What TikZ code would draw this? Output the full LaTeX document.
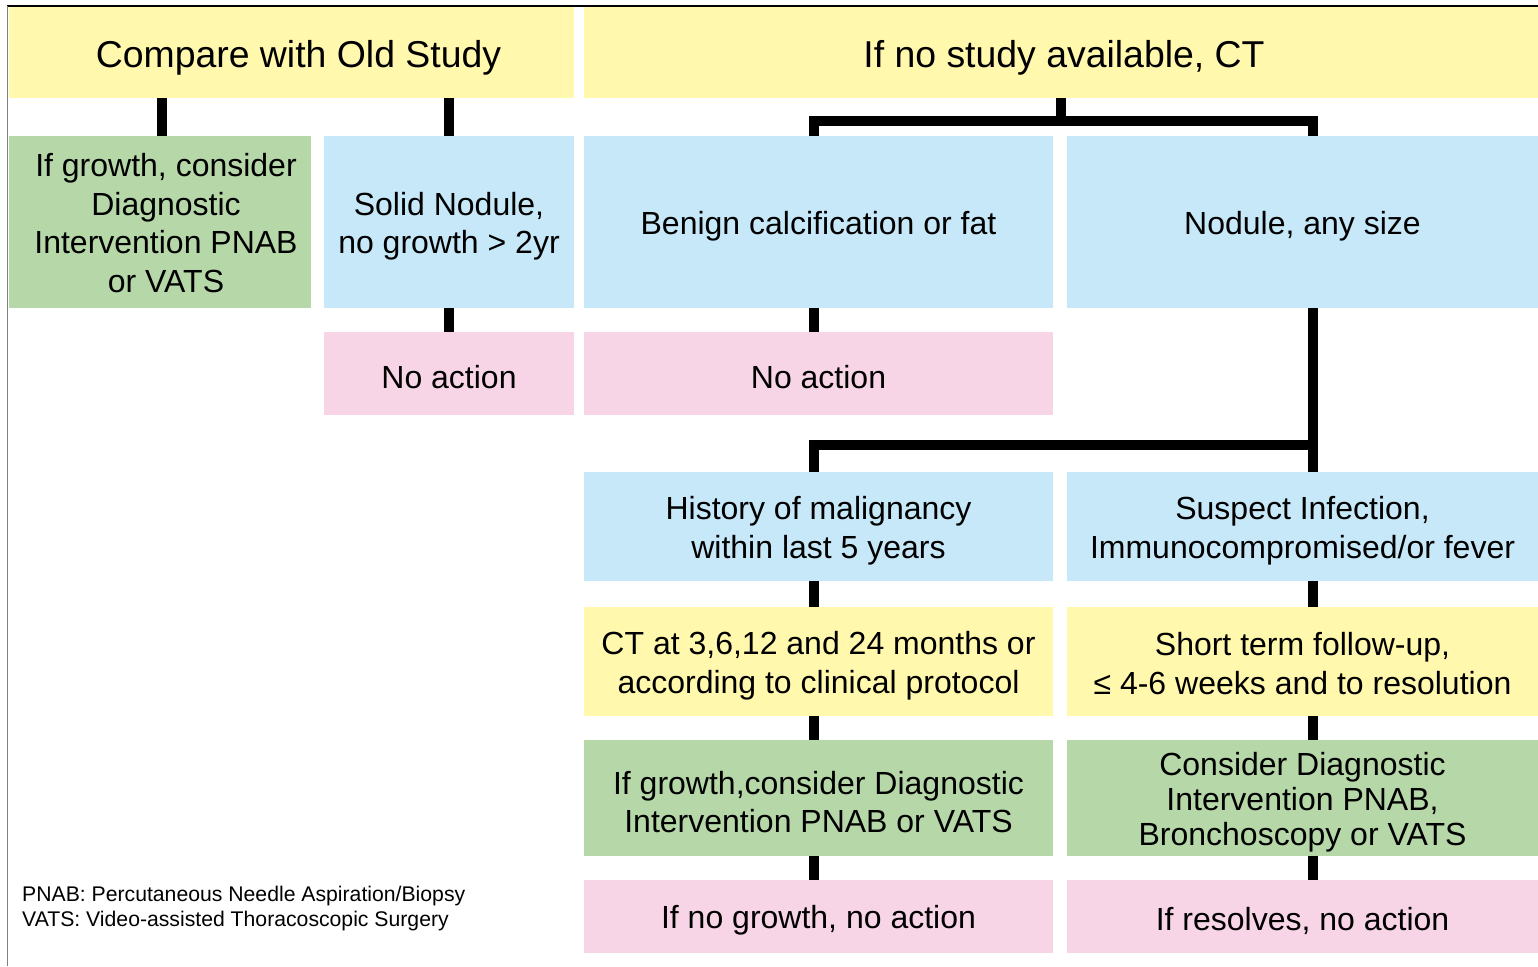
\documentclass[tikz,border=0pt]{standalone}
\usepackage{fontspec}
\setmainfont{Liberation Sans}
\definecolor{cyellow}{HTML}{FFF8AD}
\definecolor{cblue}{HTML}{C6E8F8}
\definecolor{cgreen}{HTML}{B6D7A8}
\definecolor{cpink}{HTML}{F8D5E6}
\definecolor{cframe}{HTML}{808080}
\begin{document}
\begin{tikzpicture}[x=1pt,y=1pt,
  box/.style={rectangle, draw=none, inner sep=0pt},
  txt/.style={inner sep=0pt, align=center, text=black, yshift=-4pt,
    font=\fontsize{32}{38.5}\selectfont},
  ttxt/.style={txt, yshift=-1pt, font=\fontsize{37.4}{44}\selectfont},
  conn/.style={draw=black, line width=10pt, line cap=butt, line join=miter}]
\useasboundingbox (0,0) rectangle (1538,-966);
\fill[white] (0,0) rectangle (1538,-966);
% frame
\draw[black, line width=1.4pt] (7,-6) -- (1538,-6);
\draw[cframe, line width=1.6pt] (7.5,-6) -- (7.5,-966);
% top row
\node[box, fill=cyellow, minimum width=565, minimum height=91, label={[ttxt, xshift=7pt]center:Compare with Old Study}] (t1) at (291.5,-52.5) {};
\node[box, fill=cyellow, minimum width=954, minimum height=91, label={[ttxt, xshift=3pt]center:{If no study available, CT}}] (t2) at (1061,-52.5) {};
% second row
\node[box, fill=cgreen, minimum width=302, minimum height=172, label={[txt, xshift=6pt, yshift=3pt]center:{If growth, consider\\Diagnostic\\Intervention PNAB\\or VATS}}] (g1) at (160,-222) {};
\node[box, fill=cblue, minimum width=250, minimum height=172, label={[txt]center:{Solid Nodule,\\no growth {>} 2yr}}] (b1) at (449,-222) {};
\node[box, fill=cblue, minimum width=469, minimum height=172, label={[txt]center:Benign calcification or fat}] (b2) at (818.5,-222) {};
\node[box, fill=cblue, minimum width=471, minimum height=172, label={[txt]center:{Nodule, any size}}] (b3) at (1302.5,-222) {};
% no action row
\node[box, fill=cpink, minimum width=250, minimum height=83, label={[txt]center:No action}] (p1) at (449,-373.5) {};
\node[box, fill=cpink, minimum width=469, minimum height=83, label={[txt]center:No action}] (p2) at (818.5,-373.5) {};
% lower rows
\node[box, fill=cblue, minimum width=469, minimum height=109, label={[txt]center:{History of malignancy\\within last 5 years}}] (b4) at (818.5,-526.5) {};
\node[box, fill=cblue, minimum width=471, minimum height=109, label={[txt]center:{Suspect Infection,\\Immunocompromised/or fever}}] (b5) at (1302.5,-526.5) {};
\node[box, fill=cyellow, minimum width=469, minimum height=109, label={[txt]center:{CT at 3,6,12 and 24 months or\\according to clinical protocol}}] (y3) at (818.5,-661.5) {};
\node[box, fill=cyellow, minimum width=471, minimum height=109, label={[txt, yshift=2pt]center:{Short term follow-up,\\≤ 4-6 weeks and to resolution}}] (y4) at (1302.5,-661.5) {};
\node[box, fill=cgreen, minimum width=469, minimum height=116, label={[txt]center:{If growth,consider Diagnostic\\Intervention PNAB or VATS}}] (g2) at (818.5,-798) {};
\node[box, fill=cgreen, minimum width=471, minimum height=116, label={[txt, font=\fontsize{32}{35}\selectfont]center:{Consider Diagnostic\\Intervention PNAB,\\Bronchoscopy or VATS}}] (g3) at (1302.5,-798) {};
\node[box, fill=cpink, minimum width=469, minimum height=73, label={[txt]center:{If no growth, no action}}] (p3) at (818.5,-916.5) {};
\node[box, fill=cpink, minimum width=471, minimum height=73, label={[txt]center:{If resolves, no action}}] (p4) at (1302.5,-916.5) {};
% footnote
\node[anchor=north west, inner sep=0pt, align=left, font=\fontsize{21.2}{25}\selectfont] (foot) at (22,-886) {PNAB: Percutaneous Needle Aspiration/Biopsy\\VATS: Video-assisted Thoracoscopic Surgery};
% helper coordinates
\coordinate (xA) at (162,0);
\coordinate (xL) at (813.5,0);
\coordinate (xR) at (1313,0);
\coordinate (j1) at (1061,-121);
\coordinate (j2) at (0,-445);
% connectors
\draw[conn] (t1.south -| xA) -- (g1.north -| xA);
\draw[conn] (t1.south -| b1.north) -- (b1.north);
\draw[conn] (b1.south) -- (p1.north);
\draw[conn] (t2.south) -- (j1);
\draw[conn] (b2.north -| xL) -- (j1 -| xL) -- (j1 -| xR) -- (b3.north -| xR);
\draw[conn] (b2.south -| xL) -- (p2.north -| xL);
\draw[conn] (b3.south -| xR) -- (b5.north -| xR);
\draw[conn] (j2 -| xR) -- (j2 -| xL) -- (b4.north -| xL);
\draw[conn] (b4.south -| xL) -- (y3.north -| xL);
\draw[conn] (b5.south -| xR) -- (y4.north -| xR);
\draw[conn] (y3.south -| xL) -- (g2.north -| xL);
\draw[conn] (y4.south -| xR) -- (g3.north -| xR);
\draw[conn] (g2.south -| xL) -- (p3.north -| xL);
\draw[conn] (g3.south -| xR) -- (p4.north -| xR);
\end{tikzpicture}
\end{document}
